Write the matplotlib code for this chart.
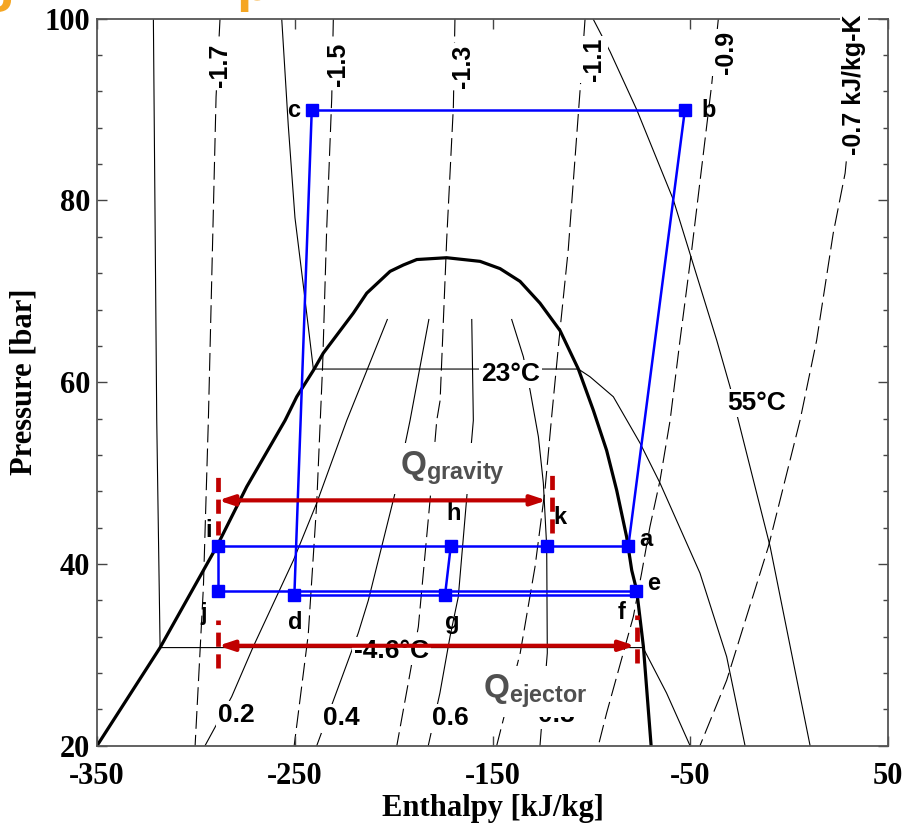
import matplotlib
matplotlib.use("Agg")
import matplotlib.pyplot as plt
from matplotlib.ticker import MultipleLocator

# ---- data (enthalpy kJ/kg, pressure bar) ----
dome_h = [-350, -318.1, -289.5, -274.3, -254.9, -249.0, -240.6, -235.6, -220.4, -213.6,
          -201.8, -195.1, -188.3, -173.2, -156.3, -146.2, -136.1, -126.0, -115.9, -106.6,
          -99.0, -92.3, -87.2, -82.2, -79.6, -77.1, -73.7, -69.8]
dome_P = [20, 30.8, 41.9, 48.5, 55.8, 58.4, 61.3, 63.2, 67.6, 69.8,
          72.2, 72.9, 73.5, 73.7, 73.3, 72.5, 71.1, 68.7, 65.7, 61.45,
          56.9, 52.5, 48.1, 43.0, 39.3, 37.1, 30.9, 20]

# isotherms (thin solid)
t_m46_h = [-321.5, -319.8, -318.1, -73.9, -62.0, -50.1]
t_m46_P = [100, 55.8, 30.8, 30.8, 25.8, 20]
t_23_h = [-256.6, -254.4, -253.3, -249.9, -245.7, -240.6, -106.6, -100.7, -88.9, -75.4,
          -65.3, -45.1, -31.6, -22.3]
t_23_P = [100, 92.2, 88.3, 78.1, 70.7, 61.45, 61.45, 60.6, 58.4, 53.3,
          48.9, 39.0, 29.8, 20]
t_55_h = [-99.2, -90.6, -77.1, -58.6, -36.6, -29.9, -25.7, -9.6, 10.6]
t_55_P = [100, 96.4, 90, 80.1, 64.6, 59.5, 55.8, 41.9, 20]

# isentropes (dashed), kJ/kg-K
s_labels = ["-1.7", "-1.5", "-1.3", "-1.1", "-0.9", "-0.7 kJ/kg-K"]
s17_h = [-287.8, -289.8, -293.7, -296.2, -300.4]
s17_P = [100, 91.4, 55.8, 37.5, 20]
s15_h = [-230.5, -231.3, -233.9, -235.9, -238.9, -243.2, -250.3]
s15_P = [100, 91.3, 76.6, 61.9, 46.7, 32.2, 20]
s13_h = [-169.0, -169.8, -173.2, -176.5, -178.2, -181.6, -187.5, -191.7, -198.4]
s13_P = [100, 90.3, 75.6, 58, 55.8, 47, 33.1, 28, 20]
s11_h = [-103.2, -105.7, -111.7, -115.9, -120.1, -123.5, -128.5, -136.0, -147.9]
s11_P = [100, 92.2, 74.6, 65.7, 56.2, 48.1, 39.7, 30.2, 20]
s09_h = [-35.8, -39.2, -49.3, -55.2, -60.2, -65.3, -70.4, -74.6, -78.8, -92.3, -96.5]
s09_P = [100, 92.7, 74.5, 64.6, 55.8, 49.2, 44.1, 39, 34.2, 23.6, 20]
s07_h = [36.0, 28.3, 22.3, 13.9, 5.5, -10.5, -31.6, -45.1]
s07_P = [100, 83, 76.4, 64.6, 55.8, 41.9, 27.2, 20]
s_label_h = [-287.8, -227.9, -164.9, -98.7, -31.9, 32.8]
s_label_P = [94.85, 95.0, 94.7, 95.5, 96.3, 92.7]

# vapour quality lines (thin solid)
q_labels = ["0.2", "0.4", "0.6", "0.8"]
q2_h = [-295.4, -281.9, -271.0, -250.7, -238.9, -223.7, -203.2]
q2_P = [20, 25.4, 30.9, 40.4, 46.7, 55.8, 66.9]
q4_h = [-238.9, -217.9, -212.8, -199.3, -191.7, -182.2]
q4_P = [20, 32.4, 36, 47.8, 55.8, 66.9]
q6_h = [-182.5, -176.6, -171.5, -167.3, -163.0, -159.7, -160.5]
q6_P = [20, 25.8, 32, 36.4, 47.4, 55.8, 66.9]
q8_h = [-126.0, -122.3, -122.6, -124.3, -126.8, -131.0, -134.4, -140.3]
q8_P = [20, 30.2, 41.9, 48.9, 54.0, 59.1, 62.8, 66.9]
q_label_h = [-279.5, -226.3, -171.5, -117.5]
q_label_P = [23.4, 23.0, 23.0, 23.4]

# cycle state points
pts = {
    "a": (-81.3, 42.0), "b": (-52.7, 90.0), "c": (-241.4, 90.0), "d": (-250.2, 36.6),
    "e": (-77.4, 37.0), "f": (-77.4, 36.6), "g": (-174.0, 36.6), "h": (-171.1, 42.0),
    "i": (-288.7, 42.0), "j": (-288.7, 37.0), "k": (-122.6, 42.0),
}
pt_label_pos = {
    "a": (-72.4, 42.7), "b": (-40.9, 89.9), "c": (-250.7, 89.9), "d": (-249.9, 33.6),
    "e": (-68.7, 37.9), "f": (-84.7, 34.7), "g": (-170.6, 33.6), "h": (-169.8, 45.6),
    "i": (-293.7, 43.7), "j": (-295.9, 34.6), "k": (-115.9, 45.1),
}

# heat-duty spans
grav_P, grav_h0, grav_h1 = 47.0, -288.7, -122.6
ejec_P, ejec_h0, ejec_h1 = 31.0, -288.7, -77.9

x_ticks = [-350, -250, -150, -50, 50]

plt.rcParams["font.family"] = "Liberation Serif"
plt.rcParams["font.weight"] = "bold"
plt.rcParams["axes.unicode_minus"] = False
plt.rcParams["mathtext.fontset"] = "custom"
plt.rcParams["mathtext.rm"] = "Liberation Sans:bold"
plt.rcParams["mathtext.default"] = "rm"
SANS = "Liberation Sans"

fig = plt.figure(figsize=(9.17, 8.35), dpi=100)
ax = fig.add_axes([0.1058, 0.1069, 0.8626, 0.8707])

thin = dict(color="black", lw=0.8, zorder=1)
dash = dict(color="black", lw=0.8, ls=(0, (16, 5.5)), zorder=1)

# saturation dome
ax.plot(dome_h, dome_P, color="black", lw=2.3, zorder=2)

# isotherms
ax.plot(t_m46_h, t_m46_P, **thin)
ax.plot(t_23_h, t_23_P, **thin)
ax.plot(t_55_h, t_55_P, **thin)

# isentropes
for hh, pp in [(s17_h, s17_P), (s15_h, s15_P), (s13_h, s13_P),
               (s11_h, s11_P), (s09_h, s09_P), (s07_h, s07_P)]:
    ax.plot(hh, pp, **dash)

# quality lines
for hh, pp in [(q2_h, q2_P), (q4_h, q4_P), (q6_h, q6_P), (q8_h, q8_P)]:
    ax.plot(hh, pp, **thin)

wbox = dict(facecolor="white", edgecolor="none", pad=1.5)

for lab, x, y in zip(s_labels, s_label_h, s_label_P):
    ax.text(x, y, lab, rotation=90, ha="center", va="center", fontsize=18,
            family=SANS, fontweight="bold", bbox=wbox, zorder=5, clip_on=False)

for lab, x, y in zip(q_labels, q_label_h, q_label_P):
    ax.text(x, y, lab, ha="center", va="center", fontsize=19,
            family=SANS, fontweight="bold", bbox=wbox, zorder=4)

ax.text(-141.1, 60.9, "23°C", ha="center", va="center", fontsize=19,
        family=SANS, fontweight="bold", bbox=wbox, zorder=4)
ax.text(-16.4, 57.7, "55°C", ha="center", va="center", fontsize=19,
        family=SANS, fontweight="bold", bbox=wbox, zorder=4)
ax.text(-201.0, 30.4, "-4.6°C", ha="center", va="center", fontsize=19,
        family=SANS, fontweight="bold", bbox=wbox, zorder=4)

# Q labels
qcol = "#505050"
qbox = dict(facecolor="white", edgecolor="none", pad=5)
ax.text(-196.6, 49.8, r"$\mathrm{Q}_{\mathrm{gravity}}$", ha="left", va="baseline",
        fontsize=24, color=qcol, bbox=qbox, zorder=5)
ax.text(-154.8, 25.25, r"$\mathrm{Q}_{\mathrm{ejector}}$", ha="left", va="baseline",
        fontsize=24, color=qcol, bbox=qbox, zorder=5)

# cycle
blue = "#0000ff"
bl = dict(color=blue, lw=1.8, zorder=6)
def seg(p, q):
    ax.plot([pts[p][0], pts[q][0]], [pts[p][1], pts[q][1]], **bl)
for p, q in [("a", "b"), ("b", "c"), ("c", "d"), ("i", "a"), ("h", "g"),
             ("i", "j"), ("j", "e"), ("d", "f")]:
    seg(p, q)
for name in ["a", "b", "c", "d", "e", "g", "h", "i", "j", "k"]:
    ax.plot(*pts[name], marker="s", ms=8, color=blue, zorder=7)
for name, (x, y) in pt_label_pos.items():
    ax.text(x, y, name, ha="center", va="center", fontsize=17,
            family=SANS, fontweight="bold", zorder=7)

# red duty arrows + dashed bounds
red = "#c00000"
for P, h0, h1 in [(grav_P, grav_h0, grav_h1), (ejec_P, ejec_h0, ejec_h1)]:
    ax.annotate("", xy=(h1, P), xytext=(h0, P),
                arrowprops=dict(arrowstyle="<|-|>,head_length=0.9,head_width=0.3",
                                color=red, lw=3, shrinkA=0, shrinkB=0), zorder=8)
rd = dict(color=red, lw=3.4, ls=(0, (3, 1.6)), zorder=8)
ax.plot([-288.7, -288.7], [43.2, 50.0], **rd)
ax.plot([-120.1, -120.1], [43.4, 50.0], **rd)
ax.plot([-288.7, -288.7], [28.5, 33.8], **rd)
ax.plot([-76.8, -76.8], [29.1, 34.4], **rd)

# axes
ax.set_xlim(-350, 50)
ax.set_ylim(20, 100)
ax.set_xticks(x_ticks)
ax.yaxis.set_major_locator(MultipleLocator(20))
ax.yaxis.set_minor_locator(MultipleLocator(4))
ax.tick_params(which="both", direction="in", top=True, right=True, colors="#444444",
               labelcolor="black", labelsize=22)
ax.tick_params(which="major", length=7, width=1)
ax.tick_params(which="minor", length=3.5, width=1)
ax.tick_params(axis="x", pad=12)
ax.tick_params(axis="y", pad=5)
for sp in ax.spines.values():
    sp.set_color("#555555")
    sp.set_linewidth(1.3)
ax.set_xlabel("Enthalpy [kJ/kg]", fontsize=22, fontweight="bold", labelpad=2)
ax.set_ylabel("Pressure [bar]", fontsize=22, fontweight="bold", labelpad=4)

# cropped orange title fragments at the top edge
fig.text(15 / 917, 1.0, "g", ha="right", va="baseline", fontsize=40, color="#f5a623",
         family=SANS, fontweight="bold")
fig.text(236 / 917, 1.0, "p", ha="left", va="baseline", fontsize=40, color="#f5a623",
         family=SANS, fontweight="bold")

fig.savefig("out.png", dpi=100)
